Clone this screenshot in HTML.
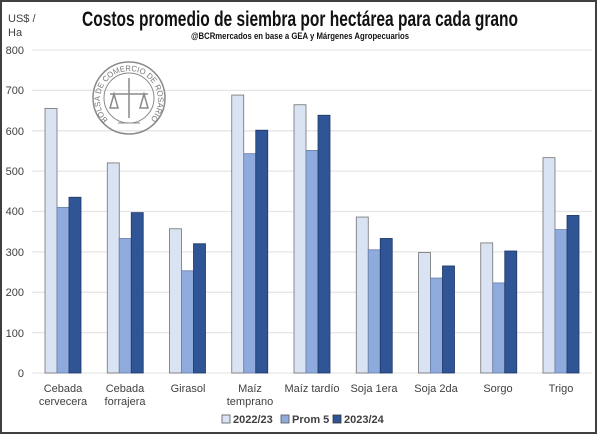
<!DOCTYPE html>
<html><head><meta charset="utf-8"><style>
html,body{margin:0;padding:0;background:#fff;}
svg{display:block;}
</style></head><body>
<svg width="600" height="435" viewBox="0 0 600 435" xmlns="http://www.w3.org/2000/svg" font-family="Liberation Sans, sans-serif">
<rect x="0" y="0" width="600" height="435" fill="#fff"/>
<rect x="1" y="1" width="595" height="432" fill="none" stroke="#404040" stroke-width="2"/>
<text x="300" y="26" text-anchor="middle" font-size="21" font-weight="bold" fill="#111" textLength="436" lengthAdjust="spacingAndGlyphs">Costos promedio de siembra por hectárea para cada grano</text>
<text x="300" y="39" text-anchor="middle" font-size="9" font-weight="bold" fill="#111" textLength="218" lengthAdjust="spacingAndGlyphs">@BCRmercados en base a GEA y Márgenes Agropecuarios</text>
<text x="8" y="22" font-size="11" fill="#404040">US$ /</text>
<text x="8" y="36" font-size="11" fill="#404040">Ha</text>
<g stroke="#e6e6e6" stroke-width="1.3">
<line x1="32" x2="592" y1="50" y2="50"/><line x1="32" x2="592" y1="90.4" y2="90.4"/><line x1="32" x2="592" y1="130.8" y2="130.8"/><line x1="32" x2="592" y1="171.1" y2="171.1"/><line x1="32" x2="592" y1="211.5" y2="211.5"/><line x1="32" x2="592" y1="251.9" y2="251.9"/><line x1="32" x2="592" y1="292.3" y2="292.3"/><line x1="32" x2="592" y1="332.6" y2="332.6"/><line x1="32" x2="592" y1="373" y2="373"/>
</g>
<g font-size="11" fill="#404040" text-anchor="end">
<text x="24" y="54">800</text><text x="24" y="94">700</text><text x="24" y="135">600</text><text x="24" y="175">500</text><text x="24" y="215">400</text><text x="24" y="256">300</text><text x="24" y="296">200</text><text x="24" y="337">100</text><text x="24" y="377">0</text>
</g>
<g fill="none" stroke="#8a8a8a">
<circle cx="129" cy="98" r="36" stroke-width="1.5"/>
<circle cx="129" cy="98" r="25" stroke-width="1"/>
<path d="M110 94 L148 94 M129 78 L129 118 M114 94 L110 108 L118 108 Z M144 94 L140 108 L148 108 Z" stroke-width="1.5"/>
<path d="M118 123 L140 123" stroke-width="1"/>
</g>
<defs><path id="arc" d="M108 120 A29 29 0 1 1 150 120"/></defs>
<text font-size="8" fill="#777"><textPath href="#arc" textLength="134" lengthAdjust="spacingAndGlyphs">BOLSA DE COMERCIO DE ROSARIO</textPath></text>
<g id="bars" stroke="#5a5a5a" stroke-width="0.8"></g>
<g font-size="11" fill="#404040" text-anchor="middle">
<text x="63" y="392">Cebada</text><text x="63" y="405">cervecera</text>
<text x="125" y="392">Cebada</text><text x="125" y="405">forrajera</text>
<text x="188" y="392">Girasol</text>
<text x="250" y="392">Maíz</text><text x="250" y="405">temprano</text>
<text x="312" y="392">Maíz tardío</text>
<text x="374" y="392">Soja 1era</text>
<text x="436" y="392">Soja 2da</text>
<text x="498" y="392">Sorgo</text>
<text x="561" y="392">Trigo</text>
</g>
<g font-size="11" font-weight="bold" fill="#404040">
<rect x="222" y="415" width="8" height="8" fill="#dae3f3" stroke="#555" stroke-width="0.8"/><text x="233" y="423">2022/23</text>
<rect x="281" y="415" width="8" height="8" fill="#8faadc" stroke="#555" stroke-width="0.8"/><text x="292" y="423">Prom 5</text>
<rect x="333" y="415" width="8" height="8" fill="#2f5597" stroke="#333" stroke-width="0.8"/><text x="344" y="423">2023/24</text>
</g>
<script>
var d=[[655,410,435],[520,333,397],[357,253,320],[688,543,601],[664,551,638],[386,305,333],[298,235,265],[322,223,302],[533,355,390]];
var c=["#dae3f3","#8faadc","#2f5597"],s=["#707070","#6a7fa8","#1f3864"];
var g=document.getElementById("bars"),ns="http://www.w3.org/2000/svg";
for(var k=0;k<9;k++){var cx=63+62.25*k;for(var i=0;i<3;i++){var r=document.createElementNS(ns,"rect");var h=d[k][i]*0.404;r.setAttribute("x",cx-18+i*12);r.setAttribute("y",373-h);r.setAttribute("width",12);r.setAttribute("height",h);r.setAttribute("fill",c[i]);r.setAttribute("stroke",s[i]);g.appendChild(r);}}
</script>
</svg>
</body></html>
